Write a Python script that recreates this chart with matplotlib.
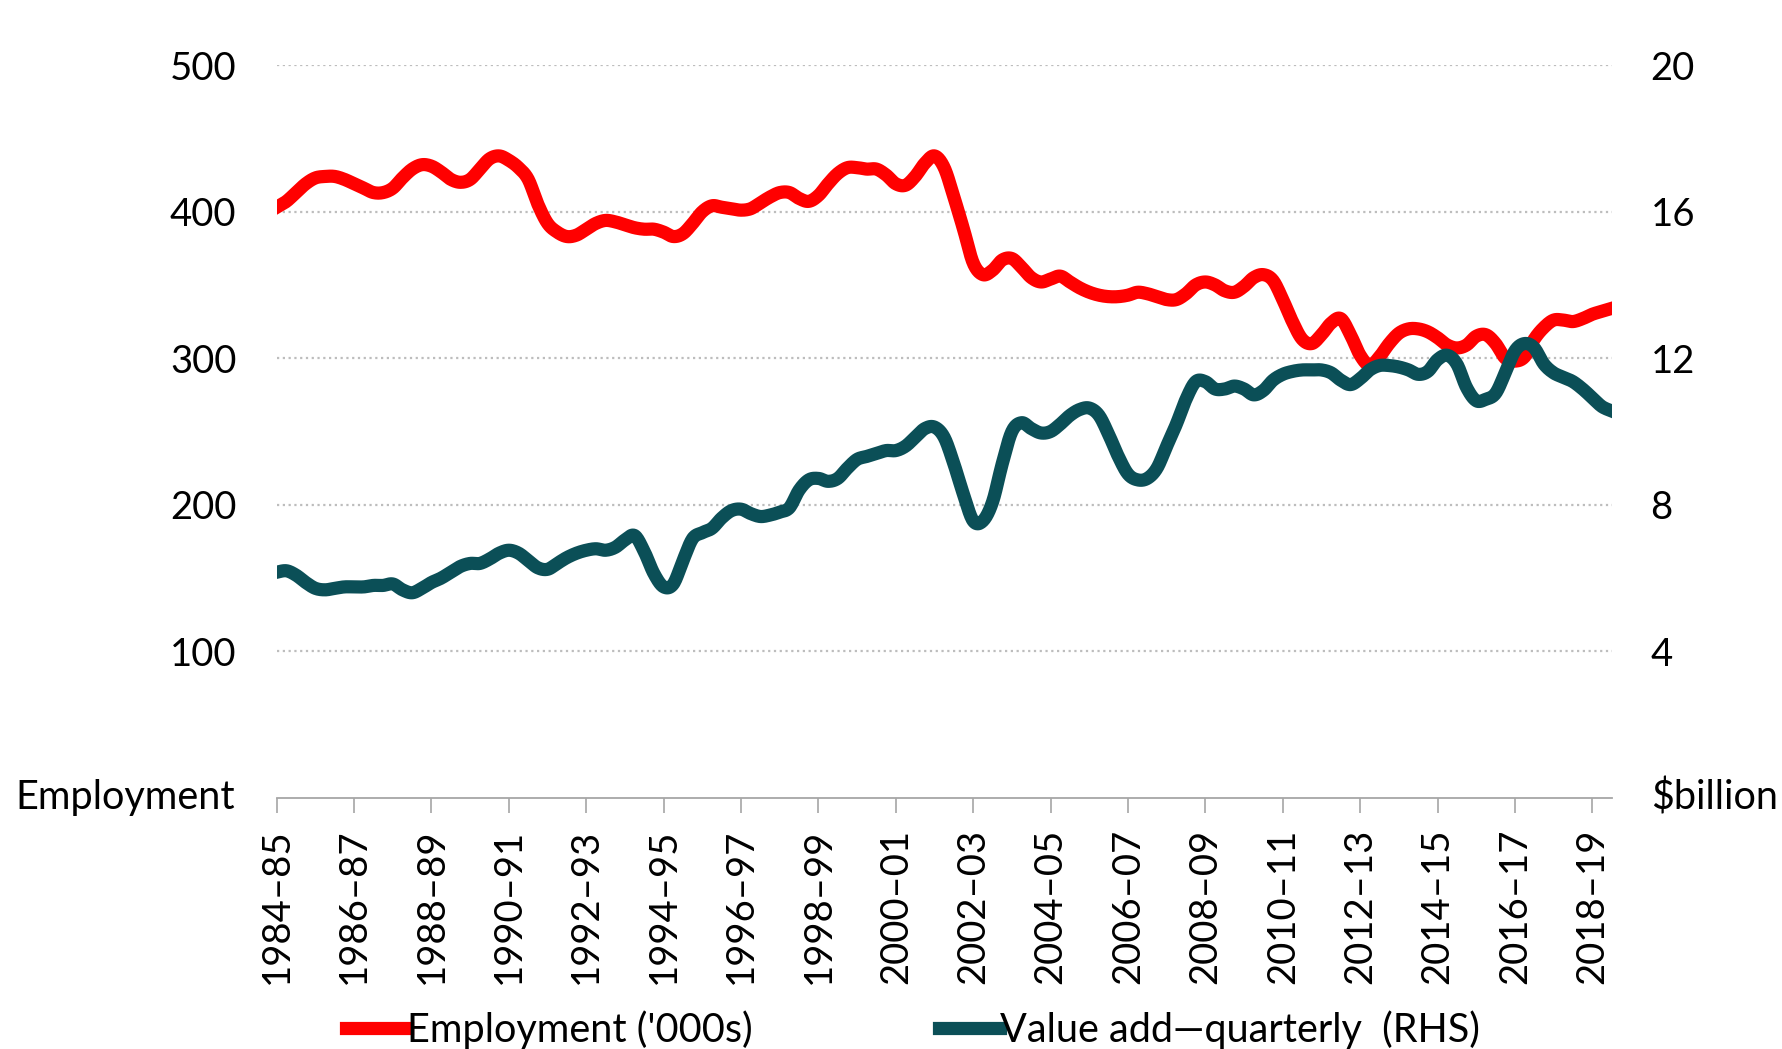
import matplotlib
matplotlib.use('Agg')
import matplotlib.pyplot as plt
import numpy as np

# Quarterly series, 1984-85 Q1 onwards
employment = [
    403, 407, 413, 419, 423, 424, 424, 422, 419, 416,
    413, 413, 416, 423, 429, 432, 431, 427, 422, 420,
    422, 429, 436, 438, 435, 430, 422, 405, 392, 386,
    383, 384, 388, 392, 394, 393, 391, 389, 388, 388,
    386, 383, 385, 392, 400, 404, 403, 402, 401, 402,
    406, 410, 413, 413, 409, 407, 411, 419, 426, 430,
    430, 429, 429, 425, 419, 418, 424, 433, 438, 430,
    410, 388, 365, 357, 360, 367, 368, 362, 355, 352,
    354, 356, 352, 348, 345, 343, 342, 342, 343, 345,
    344, 342, 340, 340, 344, 350, 352, 350, 346, 345,
    349, 355, 357, 353, 340, 325, 313, 310, 316, 324,
    327, 316, 302, 295, 301, 310, 317, 320, 320, 318,
    314, 309, 307, 309, 315, 316, 310, 300, 298, 301,
    313, 321, 326, 326, 325, 327, 330, 332, 334,
]

value_add = [
    6.16, 6.20, 6.08, 5.88, 5.72, 5.68, 5.72, 5.76, 5.76, 5.76,
    5.80, 5.80, 5.84, 5.68, 5.60, 5.72, 5.88, 6.00, 6.16, 6.32,
    6.40, 6.40, 6.52, 6.68, 6.76, 6.68, 6.48, 6.28, 6.24, 6.40,
    6.56, 6.68, 6.76, 6.80, 6.76, 6.84, 7.04, 7.16, 6.72, 6.12,
    5.76, 5.84, 6.48, 7.08, 7.24, 7.36, 7.64, 7.84, 7.88, 7.76,
    7.68, 7.72, 7.80, 7.92, 8.40, 8.68, 8.72, 8.64, 8.72, 9.00,
    9.24, 9.32, 9.40, 9.48, 9.48, 9.60, 9.84, 10.08, 10.12, 9.84,
    9.12, 8.28, 7.56, 7.56, 8.08, 9.12, 10.00, 10.24, 10.08, 9.96,
    10.00, 10.20, 10.44, 10.60, 10.64, 10.44, 9.92, 9.32, 8.84, 8.68,
    8.72, 9.00, 9.60, 10.20, 10.88, 11.36, 11.36, 11.16, 11.16, 11.24,
    11.16, 11.00, 11.12, 11.40, 11.56, 11.64, 11.68, 11.68, 11.68, 11.60,
    11.40, 11.28, 11.44, 11.68, 11.80, 11.80, 11.76, 11.68, 11.56, 11.64,
    11.96, 12.08, 11.84, 11.20, 10.84, 10.88, 11.04, 11.60, 12.20, 12.40,
    12.28, 11.84, 11.60, 11.48, 11.36, 11.16, 10.92, 10.68, 10.56,
]

year_labels = [
    '1984–85', '1986–87', '1988–89', '1990–91', '1992–93', '1994–95',
    '1996–97', '1998–99', '2000–01', '2002–03', '2004–05', '2006–07',
    '2008–09', '2010–11', '2012–13', '2014–15', '2016–17', '2018–19',
]

left_ticks = [100, 200, 300, 400, 500]
right_ticks = [4, 8, 12, 16, 20]

plt.rcParams['font.family'] = ['Lato', 'DejaVu Sans']
FS = 28.5
TICK_FS = 27.5


def smooth(x, y, n=12):
    # Excel-style smoothed line: cubic Bezier through every point
    x = np.asarray(x, float)
    y = np.asarray(y, float)
    px = np.concatenate([[x[0]], x, [x[-1]]])
    py = np.concatenate([[y[0]], y, [y[-1]]])
    t = np.linspace(0, 1, n, endpoint=False)[:, None]
    xs, ys = [], []
    for i in range(1, len(px) - 2):
        p0 = np.array([px[i], py[i]])
        p3 = np.array([px[i + 1], py[i + 1]])
        c1 = p0 + (p3 - np.array([px[i - 1], py[i - 1]])) / 6
        c2 = p3 - (np.array([px[i + 2], py[i + 2]]) - p0) / 6
        seg = ((1 - t) ** 3) * p0 + 3 * ((1 - t) ** 2) * t * c1 \
            + 3 * (1 - t) * t ** 2 * c2 + t ** 3 * p3
        xs.append(seg[:, 0])
        ys.append(seg[:, 1])
    xs.append([x[-1]])
    ys.append([y[-1]])
    return np.concatenate(xs), np.concatenate(ys)


quarters = list(range(len(employment)))

fig = plt.figure(figsize=(17.83, 10.49), dpi=100)
ax = fig.add_axes([0.1552, 0.2393, 0.9039 - 0.1552, 0.938 - 0.2393])
ax2 = ax.twinx()

ex, ey = smooth(quarters, employment)
vx, vy = smooth(quarters, value_add)
red_line, = ax.plot(ex, ey, color='#FF0000', lw=9.5,
                    solid_joinstyle='round', label="Employment ('000s)")
teal_line, = ax2.plot(vx, vy, color='#0B4F57', lw=9.5,
                      solid_joinstyle='round',
                      label='Value add—quarterly  (RHS)')

ax.set_xlim(0, len(employment) - 1)
ax.set_ylim(0, 500)
ax2.set_ylim(0, 20)

ax.set_yticks(left_ticks)
ax2.set_yticks(right_ticks)
ax.yaxis.grid(True, linestyle=(0, (1, 1.6)), color='#BDBDBD', lw=1.6)
ax.set_axisbelow(True)

ax.set_xticks(quarters[::8])
ax.set_xticklabels(year_labels, rotation=90, va='top')

for a in (ax, ax2):
    for side in ('top', 'left', 'right', 'bottom'):
        a.spines[side].set_visible(False)
ax.spines['bottom'].set_visible(True)
ax.spines['bottom'].set_color('#A6A6A6')
ax.spines['bottom'].set_linewidth(1.3)

ax.tick_params(axis='x', length=11, width=1.2, color='#A6A6A6', pad=11,
               labelsize=TICK_FS)
ax.tick_params(axis='y', length=0, pad=29, labelsize=TICK_FS)
ax2.tick_params(axis='y', length=0, pad=28, labelsize=TICK_FS)

fig.text(235 / 1783, 1 - 798 / 1049, 'Employment', fontsize=FS,
         ha='right', va='center')
fig.text(1651 / 1783, 1 - 798 / 1049, '$billion', fontsize=FS,
         ha='left', va='center')

fig.legend(handles=[red_line, teal_line], loc='center left',
           bbox_to_anchor=(346 / 1783, 1 - 1030 / 1049), ncol=2,
           frameon=False, fontsize=FS, handlelength=1.55, handletextpad=0,
           columnspacing=4.7, borderpad=0, borderaxespad=0)

fig.savefig('out.png', dpi=100)
